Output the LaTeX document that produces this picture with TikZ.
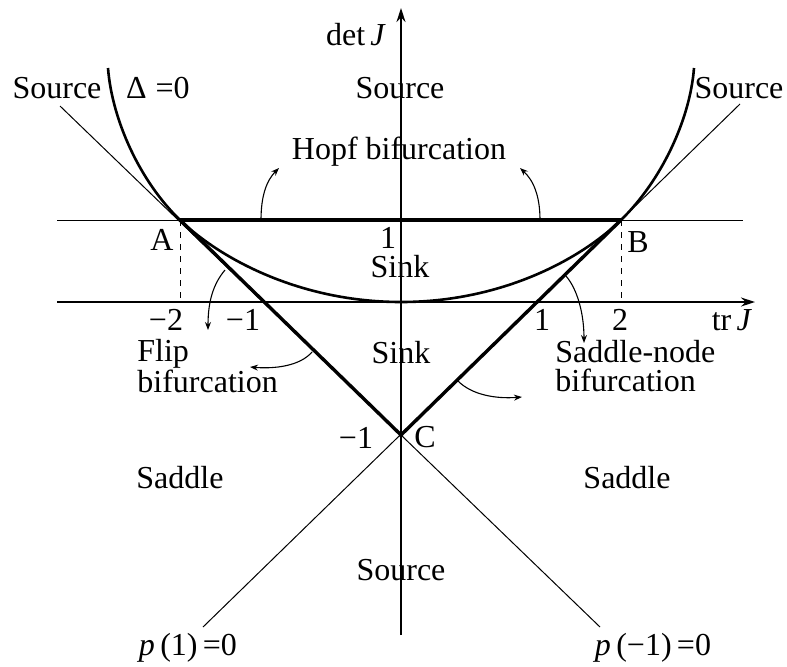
\documentclass[tikz,border=0pt]{standalone}
\usepackage{fontspec}
\setmainfont{Liberation Serif}
\usetikzlibrary{arrows.meta, positioning}

\begin{document}
\begin{tikzpicture}[
    x=0.5pt, y=-0.5pt,
    lab/.style={inner sep=0pt, font=\fontsize{16}{14.5}\selectfont},
    axis/.style={line width=0.65pt, -{Stealth[length=7pt, width=4.5pt]}},
    thinl/.style={line width=0.5pt},
    thickl/.style={line width=1.7pt},
    curvel/.style={line width=1.3pt},
    bifarr/.style={line width=0.55pt, -{Stealth[length=4pt, width=3pt]}},
    >=Stealth
]
\useasboundingbox (0,0) rectangle (787,666);

\coordinate (O) at (401,302);
\coordinate (A) at (180,220);
\coordinate (B) at (621,220);
\coordinate (C) at (401,435);
\coordinate (A0) at (180,302);
\coordinate (B0) at (621,302);
\coordinate (xl) at (57,302);
\coordinate (xr) at (755,302);
\coordinate (yb) at (401,635);
\coordinate (yt) at (401,8);
\coordinate (hl) at (57,220);
\coordinate (hr) at (743,220);
\coordinate (p1a) at (60,106);
\coordinate (p1b) at (600,627);
\coordinate (m1a) at (740,104);
\coordinate (m1b) at (203,627);

\draw[axis] (xl) -- (xr);
\draw[axis] (yb) -- (yt);
\draw[thinl] (hl) -- (hr);
\draw[thinl] (p1a) -- (p1b);
\draw[thinl] (m1a) -- (m1b);
\draw[thinl, dashed] (A) -- (A0);
\draw[thinl, dashed] (B) -- (B0);
\draw[thickl] (A) -- (B);
\draw[thickl, line join=miter] (A) -- (C) -- (B);
\draw[curvel] (108,68) .. controls (112,120) and (140,181.4) .. (A)
    .. controls (220,258.6) and (300,302) .. (O)
    .. controls (502,302) and (581,259) .. (B)
    .. controls (661,181) and (690,120) .. (694,68);
\fill (C) circle (2.2);

\coordinate (h1s) at (261,220);
\coordinate (h1e) at (279,168);
\coordinate (h2s) at (540,220);
\coordinate (h2e) at (520,168);
\coordinate (f1s) at (225,270);
\coordinate (f1e) at (208,330);
\coordinate (f2s) at (312,352);
\coordinate (f2e) at (250,367);
\coordinate (s1s) at (566,276);
\coordinate (s1e) at (584,343);
\coordinate (s2s) at (458,381);
\coordinate (s2e) at (522,397);

\draw[bifarr] (h1s) .. controls (261,195) and (267,180) .. (h1e);
\draw[bifarr] (h2s) .. controls (540,195) and (533,180) .. (h2e);
\draw[bifarr] (f1s) .. controls (214,283) and (208,300) .. (f1e);
\draw[bifarr] (f2s) .. controls (300,366) and (275,369) .. (f2e);
\draw[bifarr] (s1s) .. controls (578,290) and (584,315) .. (s1e);
\draw[bifarr] (s2s) .. controls (472,395) and (496,399) .. (s2e);

\node[lab] (ylab) at (356,35) {det\,\textit{J}};
\node[lab] (xlab) at (732,320) {tr\,\textit{J}};
\node[lab] (srcl) at (57,88) {Source};
\node[lab] (delta) at (158,88) {Δ\;=0};
\node[lab] (srct) at (400,88) {Source};
\node[lab] (srcr) at (739,88) {Source};
\node[lab] (hopf) at (399,152) {Hopf bifurcation};
\node[lab] (one) at (388,238) {1};
\node[lab] (sink1) at (400,267) {Sink};
\node[lab] (la) at (162,240) {A};
\node[lab] (lb) at (638,242) {B};
\node[lab] (mtwo) at (166,320) {−2};
\node[lab] (mone) at (243,320) {−1};
\node[lab] (pone) at (542,320) {1};
\node[lab] (ptwo) at (620,320) {2};
\node[lab, align=left, anchor=west] (flip) at (137,366) {Flip\\bifurcation};
\node[lab] (sink2) at (401,353) {Sink};
\node[lab, align=left, anchor=west] (snode) at (555,366) {Saddle-node\\bifurcation};
\node[lab] (mc) at (356,438) {−1};
\node[lab] (lc) at (425,437) {C};
\node[lab] (sadl) at (180,478) {Saddle};
\node[lab] (sadr) at (627,478) {Saddle};
\node[lab] (srcb) at (401,570) {Source};
\node[lab] (pp) at (188,648) {\textit{p}\,(1)\,=0};
\node[lab] (pm) at (653,648) {\textit{p}\,(−1)\,=0};
\end{tikzpicture}
\end{document}
